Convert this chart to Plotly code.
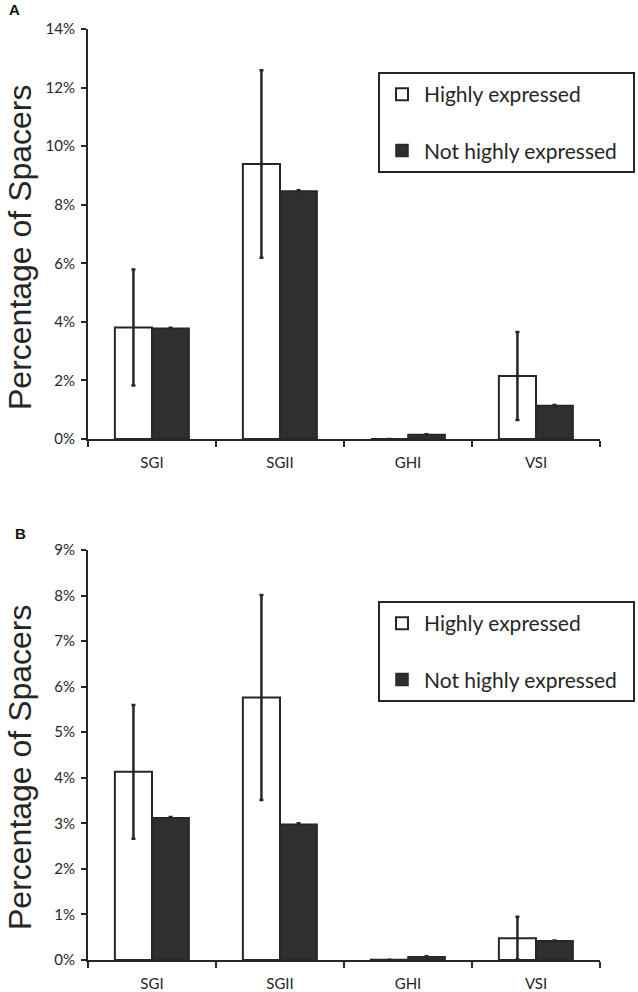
import plotly.graph_objects as go

categories = ["SGI", "SGII", "GHI", "VSI"]
series_names = ["Highly expressed", "Not highly expressed"]

# Panel A
a_high = [3.81, 9.39, 0.0, 2.15]
a_high_err = [1.98, 3.2, 0.0, 1.5]
a_not = [3.78, 8.47, 0.15, 1.14]
a_not_err = [0.02, 0.02, 0.01, 0.02]

# Panel B
b_high = [4.13, 5.76, 0.005, 0.48]
b_high_err = [1.47, 2.25, 0.0, 0.47]
b_not = [3.12, 2.98, 0.07, 0.42]
b_not_err = [0.02, 0.02, 0.01, 0.01]

a_ticks = [0, 2, 4, 6, 8, 10, 12, 14]
b_ticks = [0, 1, 2, 3, 4, 5, 6, 7, 8, 9]

DARK = "#262626"
FILL = "#2f2f2f"

W, H = 638, 992
ML, MR, MT, MB = 88, 38, 29, 32
PH = H - MT - MB
PW = W - ML - MR

def py(pix):
    return 1 - (pix - MT) / PH

def px(pix):
    return (pix - ML) / PW

fig = go.Figure()

def err(vals, color):
    return dict(type="data", array=vals, visible=True, color=color, thickness=2.5, width=2)

pad = "\u00a0\u00a0"
fig.add_trace(go.Bar(x=categories, y=a_high, name=series_names[0] + pad, marker=dict(color="white", line=dict(color=DARK, width=2)),
                     error_y=err(a_high_err, DARK), xaxis="x", yaxis="y", legend="legend", legendgroup="h"))
fig.add_trace(go.Bar(x=categories, y=a_not, name=series_names[1] + pad, marker=dict(color=FILL, line=dict(color=DARK, width=1.5)),
                     error_y=err(a_not_err, DARK), xaxis="x", yaxis="y", legend="legend", legendgroup="n"))
fig.add_trace(go.Bar(x=categories, y=b_high, name=series_names[0] + pad, marker=dict(color="white", line=dict(color=DARK, width=2)),
                     error_y=err(b_high_err, DARK), xaxis="x2", yaxis="y2", legend="legend2", legendgroup="h2"))
fig.add_trace(go.Bar(x=categories, y=b_not, name=series_names[1] + pad, marker=dict(color=FILL, line=dict(color=DARK, width=1.5)),
                     error_y=err(b_not_err, DARK), xaxis="x2", yaxis="y2", legend="legend2", legendgroup="n2"))

tickfont = dict(family="Lato, Open Sans, sans-serif", size=15, color=DARK)
xfont = dict(family="Lato, Open Sans, sans-serif", size=15, color=DARK)

xcommon = dict(showline=True, linecolor=DARK, linewidth=2, ticks="outside", tickson="boundaries",
               ticklen=6, tickwidth=2, tickcolor=DARK, tickfont=xfont, showgrid=False,
               ticklabelstandoff=9, automargin=False)
ycommon = dict(showline=True, linecolor=DARK, linewidth=2, ticks="outside", ticklen=5, tickwidth=2,
               tickcolor=DARK, tickfont=tickfont, showgrid=False, zeroline=False, ticklabelstandoff=3,
               automargin=False)

legfont = dict(family="Lato, Open Sans, sans-serif", size=21, color=DARK)

fig.update_layout(
    width=W, height=H,
    margin=dict(l=ML, r=MR, t=MT, b=MB, autoexpand=False),
    plot_bgcolor="white", paper_bgcolor="white",
    barmode="group", bargap=0.42, bargroupgap=0,
    xaxis=dict(domain=[0, 1], anchor="y", **xcommon),
    yaxis=dict(domain=[py(439), 1], anchor="x", range=[0, 14], tickvals=a_ticks,
               ticktext=[f"{t}%" for t in a_ticks], **ycommon),
    xaxis2=dict(domain=[0, 1], anchor="y2", **xcommon),
    yaxis2=dict(domain=[0, py(550)], anchor="x2", range=[0, 9], tickvals=b_ticks,
                ticktext=[f"{t}%" for t in b_ticks], **ycommon),
    legend=dict(x=px(378), y=py(72), xanchor="left", yanchor="top", bordercolor=DARK, borderwidth=2,
                bgcolor="white", font=legfont, traceorder="grouped", tracegroupgap=26, itemwidth=34),
    legend2=dict(x=px(378), y=py(601), xanchor="left", yanchor="top", bordercolor=DARK, borderwidth=2,
                 bgcolor="white", font=legfont, traceorder="grouped", tracegroupgap=26, itemwidth=34),
    showlegend=True,
)

title_font = dict(family="Liberation Sans, Arial, sans-serif", size=32, color=DARK)
fig.add_annotation(text="Percentage of Spacers", xref="paper", yref="paper", x=px(20), y=py(247),
                   textangle=-90, showarrow=False, font=title_font, xanchor="center", yanchor="middle")
fig.add_annotation(text="Percentage of Spacers", xref="paper", yref="paper", x=px(20), y=py(767),
                   textangle=-90, showarrow=False, font=title_font, xanchor="center", yanchor="middle")
label_font = dict(family="Liberation Sans, Arial, sans-serif", size=15, color="#111")
fig.add_annotation(text="<b>A</b>", xref="paper", yref="paper", x=px(14), y=py(10), showarrow=False,
                   font=label_font, xanchor="center", yanchor="middle")
fig.add_annotation(text="<b>B</b>", xref="paper", yref="paper", x=px(20), y=py(533), showarrow=False,
                   font=label_font, xanchor="center", yanchor="middle")

fig.write_html("out.html", config={"displayModeBar": False},
               post_script="document.body.style.margin='0px';")
